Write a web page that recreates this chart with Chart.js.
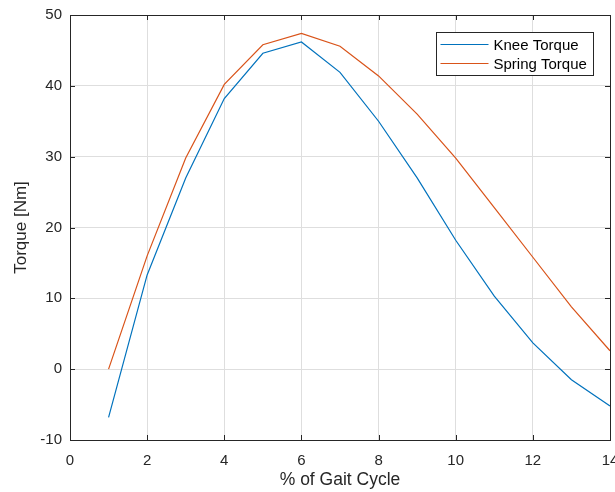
<!DOCTYPE html>
<html>
<head>
<meta charset="utf-8">
<script src="https://cdn.jsdelivr.net/npm/chart.js@4.4.0/dist/chart.umd.min.js"></script>
<style>
  html, body { margin: 0; padding: 0; background: #fff; }
  #wrap { width: 615px; height: 492px; }
</style>
</head>
<body>
<div id="wrap"><canvas id="torqueChart" width="615" height="492"></canvas></div>
<script>
// gait cycle samples
var gaitPercent = [1, 2, 3, 4, 5, 6, 7, 8, 9, 10, 11, 12, 13, 14];
var kneeTorque = [-6.8, 13.3, 27.0, 38.2, 44.6, 46.2, 41.9, 35.0, 27.0, 18.2, 10.3, 3.7, -1.5, -5.2];
var springTorque = [0.0, 16.0, 29.8, 40.2, 45.8, 47.4, 45.6, 41.4, 36.0, 29.8, 22.8, 15.8, 8.8, 2.6];
var seriesNames = ['Knee Torque', 'Spring Torque'];
var seriesColors = ['#0072BD', '#D95319'];

var FONT = '"Liberation Sans", Arial, sans-serif';
var INK = '#262626';

function toPoints(xs, ys) {
  return xs.map(function (x, i) { return { x: x, y: ys[i] }; });
}

// box around the axes plus inward tick marks on all four sides
var axesBox = {
  id: 'axesBox',
  afterDraw: function (chart) {
    var ctx = chart.ctx, a = chart.chartArea;
    var xs = chart.scales.x, ys = chart.scales.y;
    var len = 5;
    ctx.save();
    ctx.strokeStyle = INK;
    ctx.lineWidth = 1;
    ctx.beginPath();
    xs.ticks.forEach(function (t) {
      var px = Math.round(xs.getPixelForValue(t.value)) + 0.5;
      ctx.moveTo(px, a.bottom); ctx.lineTo(px, a.bottom - len);
      ctx.moveTo(px, a.top); ctx.lineTo(px, a.top + len);
    });
    ys.ticks.forEach(function (t) {
      var py = Math.round(ys.getPixelForValue(t.value)) + 0.5;
      ctx.moveTo(a.left, py); ctx.lineTo(a.left + len, py);
      ctx.moveTo(a.right, py); ctx.lineTo(a.right - len, py);
    });
    ctx.stroke();
    ctx.strokeRect(Math.round(a.left) + 0.5, Math.round(a.top) + 0.5,
                   Math.round(a.right - a.left), Math.round(a.bottom - a.top));
    ctx.restore();
  }
};

// boxed legend in the upper right corner of the plot
var boxLegend = {
  id: 'boxLegend',
  afterDraw: function (chart) {
    var ctx = chart.ctx, a = chart.chartArea;
    var w = 157, h = 43;
    var x0 = Math.round(a.right - 17 - w) + 0.5, y0 = Math.round(a.top + 17) + 0.5;
    ctx.save();
    ctx.fillStyle = '#fff';
    ctx.fillRect(x0, y0, w, h);
    ctx.strokeStyle = INK;
    ctx.lineWidth = 1;
    ctx.strokeRect(x0, y0, w, h);
    ctx.font = '15px ' + FONT;
    ctx.textBaseline = 'middle';
    ctx.fillStyle = '#000';
    chart.data.datasets.forEach(function (ds, i) {
      var cy = y0 + 12 + i * 19;
      ctx.strokeStyle = ds.borderColor;
      ctx.lineWidth = 1.2;
      ctx.beginPath();
      ctx.moveTo(x0 + 4, cy); ctx.lineTo(x0 + 52, cy);
      ctx.stroke();
      ctx.fillText(ds.label, x0 + 57, cy + 1);
    });
    ctx.restore();
  }
};

var ctx = document.getElementById('torqueChart').getContext('2d');
var torqueChart = new Chart(ctx, {
  type: 'line',
  data: {
    datasets: [
      { label: seriesNames[0], data: toPoints(gaitPercent, kneeTorque), borderColor: seriesColors[0] },
      { label: seriesNames[1], data: toPoints(gaitPercent, springTorque), borderColor: seriesColors[1] }
    ]
  },
  options: {
    responsive: false,
    animation: false,
    layout: { padding: { top: 15, right: 5, left: 0, bottom: 0 } },
    elements: {
      line: { borderWidth: 1.2, tension: 0, fill: false },
      point: { radius: 0 }
    },
    plugins: { legend: { display: false }, tooltip: { enabled: false } },
    scales: {
      x: {
        type: 'linear', min: 0, max: 14,
        ticks: { stepSize: 2, color: INK, padding: 12, font: { family: FONT, size: 15 }, maxRotation: 0 },
        grid: { color: '#dedede', drawTicks: false },
        border: { display: false },
        title: { display: true, text: '% of Gait Cycle', color: INK, font: { family: FONT, size: 17.5 }, padding: { top: 0, bottom: 1 } },
        afterFit: function (s) { s.height = 52; s.paddingLeft = 0; s.paddingRight = 0; }
      },
      y: {
        type: 'linear', min: -10, max: 50,
        ticks: { stepSize: 10, color: INK, padding: 8, font: { family: FONT, size: 15 } },
        grid: { color: '#dedede', drawTicks: false },
        border: { display: false },
        title: { display: true, text: 'Torque [Nm]', color: INK, font: { family: FONT, size: 17 }, padding: { top: 11, bottom: 0 } },
        afterFit: function (s) { s.width = 70; s.paddingTop = 0; s.paddingBottom = 0; }
      }
    }
  },
  plugins: [axesBox, boxLegend]
});
</script>
</body>
</html>
